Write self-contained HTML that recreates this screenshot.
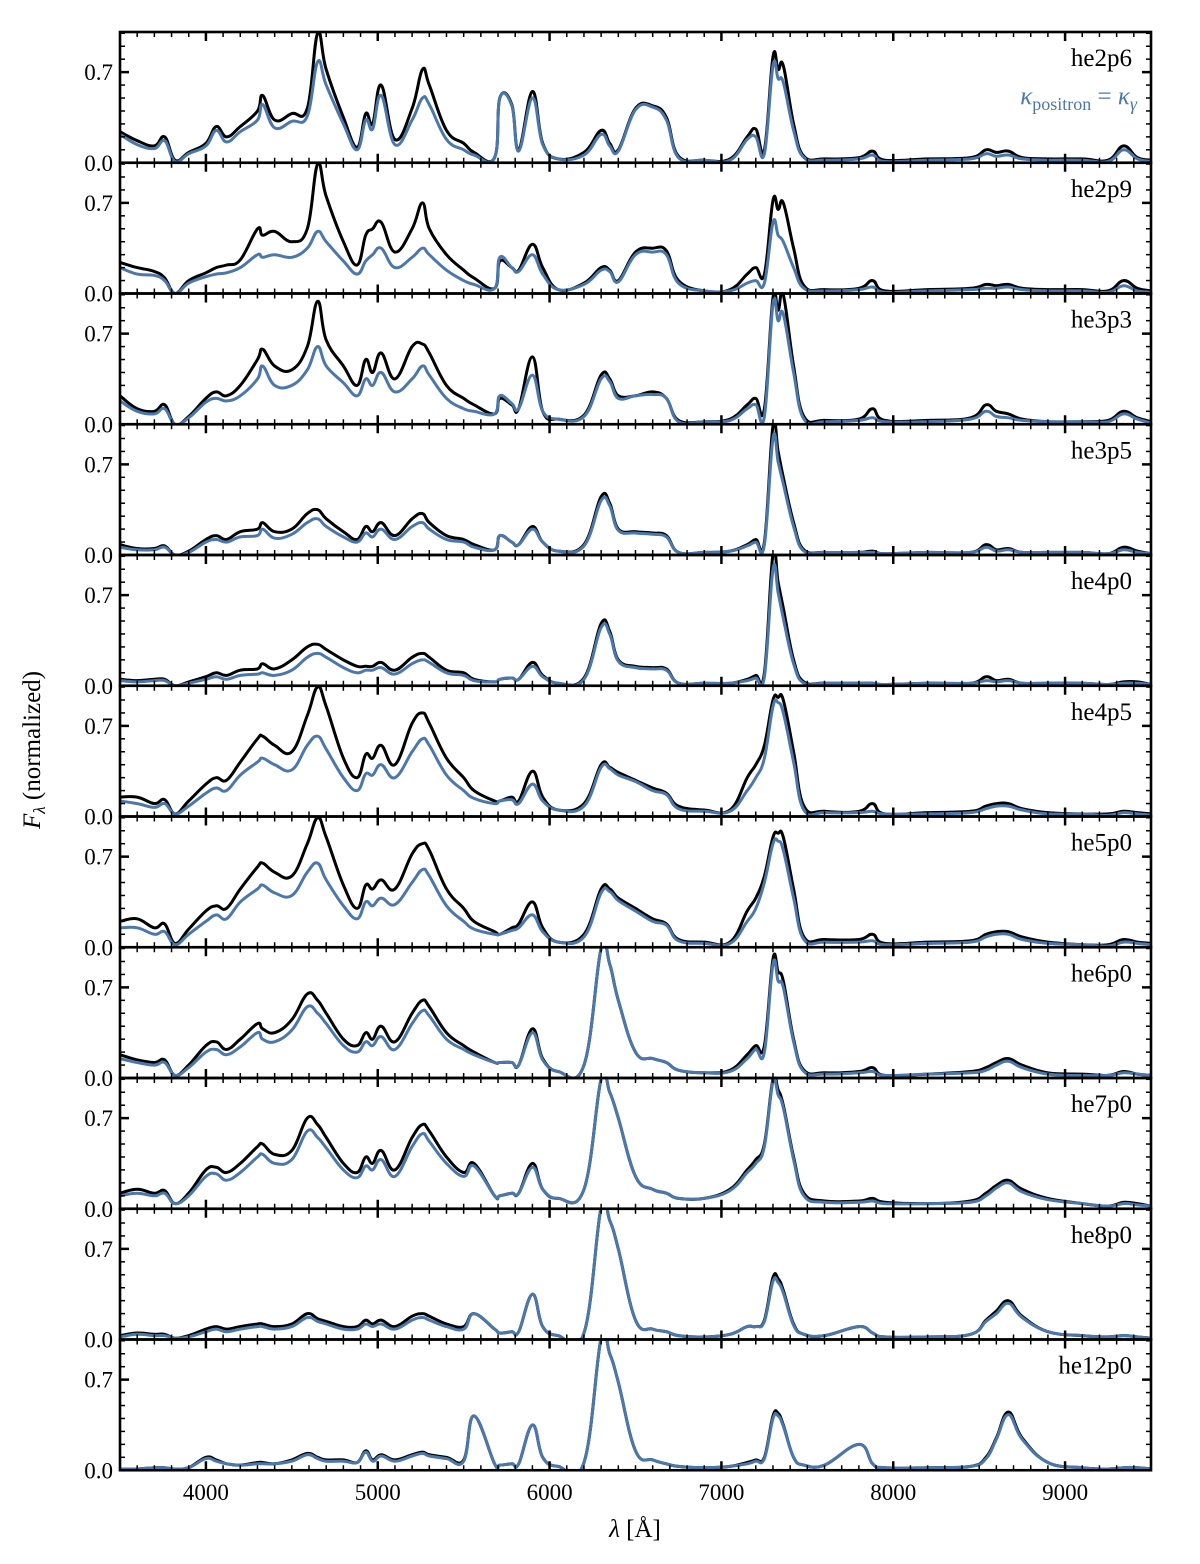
<!DOCTYPE html>
<html><head><meta charset="utf-8"><style>
body{margin:0;background:#fff;}
svg text{font-family:"Liberation Serif","DejaVu Serif",serif;}
</style></head><body>
<svg id="chart" width="1200" height="1559" xmlns="http://www.w3.org/2000/svg"></svg>
<script>
const wavelengths=[3500,3600,3700,3760,3820,3900,4000,4060,4120,4200,4300,4330,4400,4500,4590,4650,4700,4800,4880,4930,4970,5020,5100,5200,5260,5300,5400,5500,5560,5680,5710,5780,5820,5900,5960,6050,6200,6300,6350,6400,6500,6600,6680,6750,6900,7050,7150,7200,7250,7300,7330,7360,7420,7480,7600,7800,7880,7950,8200,8450,8540,8600,8670,8750,8900,9100,9250,9340,9420,9500];
const modelNames=["he2p6","he2p9","he3p3","he3p5","he4p0","he4p5","he5p0","he6p0","he7p0","he8p0","he12p0"];
const xTicks=[4000,5000,6000,7000,8000,9000];
const yTicks=[0.0,0.7];
const blackSeries=[
[.24,.17,.13,.2,.02,.08,.15,.28,.2,.28,.4,.52,.33,.38,.42,1.0,.72,.35,.12,.38,.3,.6,.18,.42,.72,.6,.25,.15,.08,.04,.5,.45,.1,.55,.15,.03,.08,.25,.15,.1,.42,.44,.35,.05,.02,.03,.2,.26,.1,.82,.72,.75,.3,.05,.03,.04,.09,.02,.03,.04,.1,.08,.09,.04,.03,.03,.02,.13,.04,.02],
[.24,.2,.17,.12,.0,.1,.16,.2,.22,.26,.5,.45,.48,.4,.5,1.0,.75,.4,.22,.45,.5,.55,.32,.5,.7,.5,.3,.18,.12,.04,.25,.2,.18,.38,.2,.03,.08,.2,.18,.1,.32,.35,.33,.1,.02,.03,.15,.2,.15,.72,.65,.7,.35,.06,.03,.04,.1,.02,.03,.04,.07,.06,.07,.04,.03,.03,.02,.1,.04,.02],
[.22,.12,.1,.15,.0,.06,.2,.25,.22,.3,.5,.58,.45,.42,.6,.95,.65,.45,.3,.5,.4,.55,.35,.6,.62,.55,.3,.2,.15,.08,.2,.15,.12,.52,.1,.04,.07,.38,.35,.22,.22,.25,.2,.03,.02,.04,.15,.2,.12,.98,.88,1.0,.45,.06,.03,.04,.12,.03,.03,.05,.15,.1,.08,.04,.02,.02,.03,.1,.05,.02],
[.08,.05,.05,.07,.0,.03,.12,.15,.12,.18,.2,.25,.18,.2,.32,.35,.28,.18,.12,.22,.18,.25,.15,.28,.32,.25,.15,.12,.08,.04,.15,.1,.08,.22,.1,.03,.08,.45,.4,.2,.18,.17,.15,.02,.02,.03,.08,.12,.1,1.0,.8,.6,.25,.04,.02,.02,.03,.01,.02,.02,.08,.04,.05,.02,.02,.02,.01,.06,.03,.01],
[.05,.04,.05,.05,.0,.03,.07,.1,.08,.12,.13,.17,.13,.2,.3,.32,.28,.2,.15,.15,.15,.18,.12,.22,.25,.22,.12,.1,.05,.03,.05,.06,.05,.18,.08,.02,.06,.48,.42,.2,.15,.14,.13,.02,.02,.02,.05,.08,.1,1.02,.8,.6,.2,.03,.02,.02,.02,.01,.02,.02,.07,.04,.05,.02,.02,.02,.01,.03,.03,.01],
[.15,.15,.1,.13,.02,.12,.25,.3,.28,.42,.6,.62,.55,.5,.78,1.0,.85,.45,.3,.48,.45,.55,.4,.72,.8,.72,.45,.3,.2,.12,.12,.15,.12,.35,.15,.05,.1,.4,.38,.34,.28,.22,.18,.08,.05,.05,.3,.4,.55,.9,.92,.9,.5,.08,.04,.04,.1,.02,.03,.04,.08,.1,.1,.06,.03,.02,.02,.04,.03,.02],
[.2,.22,.15,.18,.03,.14,.28,.32,.3,.45,.62,.65,.58,.55,.8,1.0,.85,.48,.3,.48,.45,.52,.45,.72,.8,.75,.45,.3,.2,.12,.1,.15,.18,.35,.15,.04,.1,.45,.45,.38,.3,.22,.18,.06,.04,.04,.28,.38,.55,.85,.88,.85,.45,.08,.06,.06,.1,.03,.04,.05,.1,.12,.12,.08,.04,.02,.02,.06,.04,.03],
[.18,.14,.12,.14,.02,.1,.25,.28,.22,.3,.42,.38,.35,.45,.65,.6,.5,.3,.25,.35,.3,.4,.28,.5,.6,.55,.35,.25,.2,.12,.12,.12,.1,.38,.15,.05,.1,1.0,.88,.6,.2,.15,.12,.06,.04,.06,.18,.25,.25,.92,.82,.75,.3,.06,.04,.05,.08,.02,.03,.05,.08,.12,.15,.1,.04,.03,.02,.05,.03,.02],
[.12,.15,.12,.14,.04,.12,.3,.32,.28,.35,.48,.5,.42,.45,.7,.65,.55,.35,.28,.4,.35,.45,.3,.55,.65,.6,.4,.28,.35,.1,.1,.12,.12,.35,.15,.08,.15,1.0,.9,.7,.25,.15,.12,.08,.08,.15,.3,.38,.5,1.0,.92,.8,.4,.12,.06,.06,.08,.05,.04,.06,.12,.18,.22,.15,.08,.04,.02,.05,.04,.02],
[.03,.05,.04,.04,.01,.03,.08,.1,.08,.1,.12,.12,.1,.12,.2,.16,.14,.1,.1,.15,.12,.15,.1,.18,.2,.18,.12,.1,.2,.08,.05,.06,.06,.35,.1,.03,.05,1.02,.92,.7,.15,.08,.06,.03,.02,.04,.1,.1,.15,.48,.47,.38,.12,.04,.03,.1,.05,.02,.02,.04,.15,.22,.3,.18,.06,.03,.02,.03,.02,.01],
[.01,.01,.02,.02,.01,.02,.1,.08,.05,.04,.06,.06,.05,.08,.13,.1,.08,.08,.06,.15,.08,.12,.08,.12,.14,.12,.1,.08,.42,.05,.04,.05,.05,.35,.1,.03,.06,1.02,.9,.68,.15,.08,.05,.03,.02,.03,.06,.08,.1,.42,.44,.35,.1,.04,.04,.2,.05,.02,.02,.03,.1,.25,.45,.25,.06,.02,.01,.02,.02,.01]
];
const blueSeries=[
[.22,.14,.11,.17,.01,.07,.13,.25,.16,.24,.33,.45,.27,.32,.36,.78,.6,.3,.1,.33,.26,.52,.14,.33,.5,.45,.18,.1,.06,.04,.5,.44,.09,.5,.14,.03,.06,.22,.13,.09,.41,.43,.33,.04,.02,.02,.18,.2,.07,.75,.65,.62,.25,.04,.02,.03,.06,.01,.02,.03,.07,.05,.06,.03,.02,.02,.01,.1,.03,.01],
[.2,.15,.14,.1,.0,.08,.13,.15,.16,.2,.3,.28,.3,.28,.35,.48,.4,.25,.15,.25,.3,.35,.2,.28,.35,.3,.18,.1,.07,.04,.28,.2,.17,.3,.15,.03,.07,.18,.17,.09,.3,.32,.3,.08,.02,.02,.08,.1,.08,.55,.45,.4,.2,.04,.02,.03,.05,.01,.02,.03,.04,.04,.05,.03,.02,.02,.01,.06,.02,.01],
[.18,.1,.08,.12,.0,.05,.17,.2,.18,.22,.35,.45,.3,.3,.42,.6,.45,.32,.22,.35,.3,.4,.25,.35,.45,.38,.2,.12,.1,.08,.22,.16,.12,.38,.1,.04,.06,.35,.33,.2,.22,.23,.2,.02,.02,.03,.12,.15,.06,.93,.8,.85,.4,.04,.02,.03,.05,.02,.02,.04,.1,.06,.05,.03,.02,.02,.02,.08,.04,.01],
[.06,.04,.04,.06,.0,.02,.1,.12,.1,.14,.15,.2,.13,.16,.25,.28,.22,.14,.1,.17,.14,.2,.12,.22,.25,.2,.12,.1,.06,.04,.15,.1,.08,.2,.1,.03,.07,.42,.38,.19,.17,.16,.14,.02,.02,.03,.07,.1,.08,.9,.72,.55,.22,.03,.02,.02,.02,.01,.02,.02,.06,.03,.04,.02,.02,.02,.01,.04,.02,.01],
[.04,.03,.04,.04,.0,.02,.05,.07,.05,.08,.09,.1,.08,.12,.22,.25,.22,.14,.1,.12,.12,.14,.09,.17,.2,.18,.1,.08,.04,.03,.05,.06,.05,.15,.07,.02,.05,.45,.4,.19,.14,.13,.12,.02,.02,.02,.04,.06,.07,.9,.72,.52,.17,.02,.02,.02,.02,.01,.02,.02,.04,.03,.04,.02,.02,.02,.01,.02,.02,.01],
[.12,.1,.07,.1,.02,.08,.18,.22,.2,.32,.42,.45,.4,.36,.55,.62,.52,.3,.2,.33,.32,.4,.3,.5,.6,.55,.32,.2,.14,.1,.12,.13,.1,.25,.12,.05,.08,.38,.37,.32,.27,.2,.17,.06,.04,.04,.2,.3,.45,.85,.88,.8,.42,.05,.03,.03,.04,.02,.02,.03,.06,.08,.08,.05,.02,.02,.01,.03,.02,.01],
[.15,.15,.1,.12,.02,.1,.2,.25,.22,.35,.45,.48,.42,.4,.58,.65,.52,.32,.22,.35,.32,.38,.33,.5,.6,.55,.32,.2,.14,.1,.1,.13,.15,.25,.12,.04,.08,.42,.43,.36,.28,.2,.17,.05,.03,.03,.2,.3,.5,.8,.82,.75,.38,.06,.04,.04,.05,.02,.03,.04,.08,.1,.1,.06,.03,.02,.01,.04,.03,.02],
[.15,.12,.1,.12,.02,.08,.2,.22,.18,.24,.35,.3,.28,.37,.55,.5,.42,.25,.2,.28,.25,.32,.22,.42,.52,.48,.3,.22,.18,.12,.12,.12,.1,.35,.14,.05,.1,1.0,.88,.6,.2,.15,.12,.06,.04,.05,.15,.22,.2,.88,.75,.7,.28,.05,.03,.04,.05,.02,.03,.04,.06,.1,.13,.08,.03,.02,.02,.04,.03,.02],
[.1,.12,.1,.12,.04,.1,.25,.27,.22,.28,.4,.42,.35,.38,.6,.55,.47,.3,.24,.33,.3,.38,.25,.48,.58,.52,.35,.25,.33,.1,.1,.12,.12,.32,.15,.08,.15,1.0,.9,.7,.25,.15,.12,.08,.08,.14,.28,.35,.48,.98,.88,.78,.38,.1,.05,.05,.06,.04,.04,.05,.1,.16,.2,.13,.07,.04,.02,.04,.03,.02],
[.02,.04,.03,.03,.01,.02,.06,.08,.06,.08,.1,.1,.08,.1,.17,.14,.12,.08,.08,.12,.1,.12,.08,.15,.17,.15,.1,.08,.2,.08,.05,.06,.06,.35,.1,.03,.05,1.02,.92,.7,.15,.08,.06,.03,.02,.04,.1,.1,.14,.45,.44,.36,.11,.04,.03,.1,.05,.02,.02,.04,.14,.2,.28,.17,.06,.03,.02,.03,.02,.01],
[.01,.01,.02,.02,.01,.02,.09,.07,.05,.04,.05,.05,.05,.07,.12,.09,.07,.07,.06,.14,.07,.11,.07,.11,.13,.11,.09,.07,.42,.05,.04,.05,.05,.35,.1,.03,.06,1.02,.9,.68,.15,.08,.05,.03,.02,.03,.05,.07,.09,.4,.42,.34,.1,.04,.04,.2,.05,.02,.02,.03,.09,.24,.43,.24,.06,.02,.01,.02,.02,.01]
];

const svg=document.getElementById('chart');
const NS='http://www.w3.org/2000/svg';
const L=120,R=1151,TOP=32,PH=130.75,YMAX=1.01;
const xs=w=>L+(w-3500)/6000*(R-L);
function mk(tag,attrs,parent){const e=document.createElementNS(NS,tag);for(const k in attrs)e.setAttribute(k,attrs[k]);(parent||svg).appendChild(e);return e;}
function smoothPath(p){
  let d='M'+p[0][0].toFixed(1)+','+p[0][1].toFixed(1);
  for(let i=0;i<p.length-1;i++){
    const p0=p[Math.max(0,i-1)],p1=p[i],p2=p[i+1],p3=p[Math.min(p.length-1,i+2)];
    const t=0.2;
    const c1=[p1[0]+(p2[0]-p0[0])*t,p1[1]+(p2[1]-p0[1])*t];
    const c2=[p2[0]-(p3[0]-p1[0])*t,p2[1]-(p3[1]-p1[1])*t];
    d+=' C'+c1[0].toFixed(1)+','+c1[1].toFixed(1)+' '+c2[0].toFixed(1)+','+c2[1].toFixed(1)+' '+p2[0].toFixed(1)+','+p2[1].toFixed(1);
  }
  return d;
}
const defs=mk('defs',{});
modelNames.forEach((name,i)=>{
  const y0=TOP+i*PH, y1=y0+PH;
  const ys=v=>y1-v/YMAX*PH;
  const g=mk('g',{});
  
  
  const cp=mk('clipPath',{id:'cp'+i},defs);
  mk('rect',{x:L,y:y0,width:R-L,height:PH},cp);
  [[blackSeries[i],'#000','black'],[blueSeries[i],'#4a78ad','blue']].forEach(([arr,col,nm])=>{
    const pts=arr.map((v,j)=>[xs(wavelengths[j]),ys(v)]);
    const pl=mk('path',{d:smoothPath(pts),fill:'none',stroke:col,'stroke-width':3,'stroke-linejoin':'round','clip-path':'url(#cp'+i+')'},g);
    
    
  });
  for(let w=3600;w<9500;w+=100){
    const major=w%1000===0, len=major?9:5, x=xs(w);
    mk('line',{x1:x,x2:x,y1:y1,y2:y1-len,stroke:'#000','stroke-width':major?2.5:1.5},g);
    mk('line',{x1:x,x2:x,y1:y0,y2:y0+len,stroke:'#000','stroke-width':major?2.5:1.5},g);
  }
  for(let k=1;k<=10;k++){
    const v=k/10; if(v>=YMAX) break;
    const major=(k===7), len=major?9:5, y=ys(v);
    mk('line',{x1:L,x2:L+len,y1:y,y2:y,stroke:'#000','stroke-width':major?2.5:1.5},g);
    mk('line',{x1:R,x2:R-len,y1:y,y2:y,stroke:'#000','stroke-width':major?2.5:1.5},g);
  }
  yTicks.forEach(v=>{
    const t=mk('text',{x:113,y:ys(v)+8,'text-anchor':'end','font-size':23},g);
    t.textContent=v.toFixed(1);
    
    
  });
  const lb=mk('text',{x:1132,y:y0+34,'text-anchor':'end','font-size':25},g);
  lb.textContent=name;
  
  
  const fr=mk('rect',{x:L,y:y0,width:R-L,height:PH,fill:'none',stroke:'#000','stroke-width':2.6},g);
  
  
});
xTicks.forEach(w=>{
  const t=mk('text',{x:xs(w),y:1500,'text-anchor':'middle','font-size':23});
  t.textContent=w;
  
  
});
const leg=mk('text',{x:1137,y:104,'text-anchor':'end','font-size':25,fill:'#4a78ad'});


leg.innerHTML='<tspan font-style="italic">κ</tspan><tspan font-size="18" dy="6">positron</tspan><tspan dy="-6"> = </tspan><tspan font-style="italic">κ</tspan><tspan font-size="18" font-style="italic" dy="6">γ</tspan>';
const xt=mk('text',{x:635,y:1537,'text-anchor':'middle','font-size':25});


xt.innerHTML='<tspan font-style="italic">λ</tspan> [Å]';
const yt=mk('text',{x:0,y:0,'text-anchor':'middle','font-size':25,transform:'translate(40,750) rotate(-90)'});


yt.innerHTML='<tspan font-style="italic">F</tspan><tspan font-size="17" font-style="italic" dy="5">λ</tspan><tspan dy="-5"> (normalized)</tspan>';
</script>
</body></html>
